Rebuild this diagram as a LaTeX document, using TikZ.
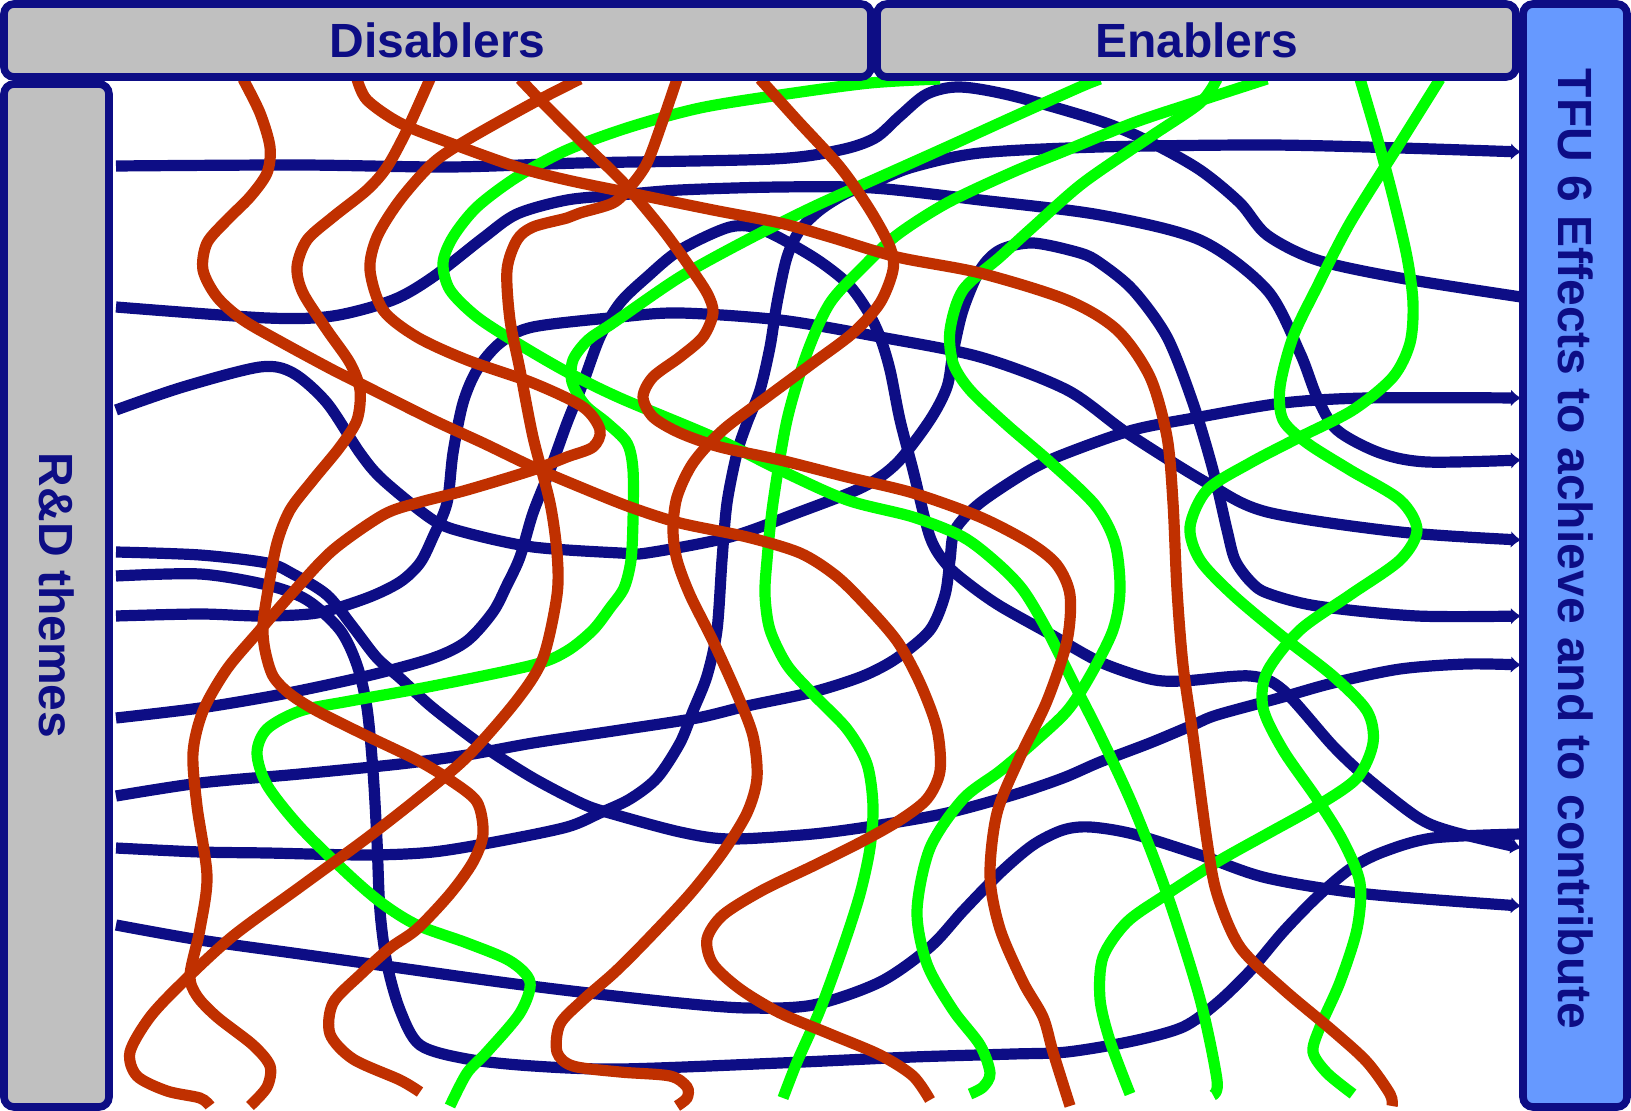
\documentclass[tikz,border=0pt]{standalone}
\usepackage{fontspec}
\setmainfont{Liberation Sans}
\usetikzlibrary{arrows.meta}
\definecolor{themenavy}{RGB}{13,13,133}
\definecolor{disred}{RGB}{192,48,0}
\definecolor{engreen}{RGB}{0,255,0}
\definecolor{panelgray}{RGB}{192,192,192}
\definecolor{tfublue}{RGB}{102,153,255}
\begin{document}
\begin{tikzpicture}[x=0.5pt,y=-0.5pt,
  panel/.style={draw=themenavy, line width=3.8pt, rounded corners=5pt, inner sep=0pt},
  lbl/.style={font=\fontsize{24}{28}\selectfont\bfseries, text=themenavy, inner sep=0pt},
  bl/.style={draw=themenavy, line width=5.6pt, -{Latex[length=5pt,width=8.5pt]}},
  bln/.style={draw=themenavy, line width=5.6pt},
  rd/.style={draw=disred, line width=5.6pt},
  gr/.style={draw=engreen, line width=5.6pt},
]
\useasboundingbox (0,0) rectangle (1631,1111);

% ---------- blue lines (R&D themes -> TFU 6 effects)
\draw[bln] plot[smooth] coordinates {(116,166) (300,165) (450,167) (580,163) (773,159) (840,150) (875,138) (900,116) (927,94) (960,87) (1013,96) (1100,121) (1150,142) (1200,170) (1240,203) (1267,235) (1317,260) (1400,278) (1521,297)};
\draw[bl] plot[smooth] coordinates {(116,307) (267,318) (333,316) (393,300) (433,277) (483,238) (517,214) (567,200) (620,195) (680,190) (780,187) (873,188) (980,200) (1100,215) (1200,240) (1267,290) (1300,353) (1317,397) (1337,430) (1380,453) (1427,462) (1521,460)};
\draw[bl] plot[smooth] coordinates {(116,410) (183,387) (260,367) (293,373) (327,403) (360,453) (383,480) (433,520) (467,533) (533,547) (620,553) (647,553) (730,537) (797,513) (863,487) (897,463) (930,420) (947,387) (953,353) (963,310) (980,270) (1000,250) (1033,243) (1080,253) (1100,263) (1133,290) (1167,337) (1193,403) (1213,470) (1227,530) (1235,560) (1250,581) (1267,593) (1317,606) (1417,616) (1521,616)};
\draw[bl] plot[smooth] coordinates {(116,552) (200,555) (267,563) (293,574) (327,595) (353,627) (377,658) (400,678) (433,708) (483,746) (533,778) (583,804) (613,814) (680,832) (730,839) (813,834) (880,825) (947,813) (1013,795) (1063,778) (1100,762) (1150,743) (1193,725) (1217,715) (1283,697) (1333,683) (1400,669) (1467,664) (1521,665)};
\draw[bln] plot[smooth] coordinates {(116,576) (200,574) (267,585) (307,600) (340,630) (357,665) (367,708) (373,771) (377,841) (380,911) (387,964) (400,1010) (420,1045) (467,1059) (533,1066) (620,1069) (780,1063) (913,1057) (1013,1054) (1067,1052) (1133,1041) (1183,1027) (1217,1003) (1250,971) (1283,932) (1317,897) (1350,869) (1383,852) (1433,838) (1521,834)};
\draw[bl] plot[smooth] coordinates {(116,616) (200,614) (260,616) (317,613) (367,598) (400,582) (420,563) (433,537) (447,503) (453,453) (463,403) (477,370) (500,343) (533,327) (620,317) (680,313) (780,320) (880,337) (980,357) (1067,390) (1127,433) (1207,483) (1267,512) (1400,532) (1521,540)};
\draw[bl] plot[smooth] coordinates {(116,718) (200,708) (283,694) (367,676) (433,658) (467,641) (493,612) (507,585) (520,557) (533,513) (550,470) (567,423) (583,383) (600,337) (620,303) (647,277) (680,250) (730,227) (763,230) (813,257) (847,283) (867,310) (880,337) (890,370) (900,420) (913,470) (930,537) (947,565) (970,585) (1000,606) (1050,634) (1100,662) (1150,679) (1183,681) (1250,676) (1283,690) (1333,746) (1367,778) (1417,817) (1450,831) (1521,848)};
\draw[bl] plot[smooth] coordinates {(116,796) (200,783) (300,774) (400,764) (467,755) (533,743) (620,730) (697,718) (747,706) (813,692) (863,676) (897,658) (930,630) (945,595) (950,560) (955,530) (980,503) (1030,470) (1067,453) (1133,430) (1200,417) (1283,403) (1367,398) (1521,398)};
\draw[bl] plot[smooth] coordinates {(116,848) (200,852) (267,853) (367,855) (433,852) (500,841) (567,827) (600,813) (630,799) (657,778) (680,743) (693,711) (707,676) (717,630) (722,560) (727,503) (737,453) (747,423) (760,390) (770,347) (777,303) (787,257) (800,230) (820,210) (847,193) (873,183) (913,167) (980,153) (1100,147) (1267,145) (1400,148) (1521,152)};
\draw[bl] plot[smooth] coordinates {(116,925) (200,940) (300,954) (400,968) (500,982) (580,992) (680,1003) (747,1008) (813,1005) (880,982) (930,947) (963,911) (1000,873) (1033,845) (1063,830) (1090,827) (1133,834) (1200,855) (1267,878) (1367,894) (1521,906)};

% ---------- green lines (enablers)
\draw[gr] plot[smooth] coordinates {(940,79) (870,83) (780,95) (700,108) (630,127) (567,150) (517,177) (477,207) (453,237) (443,263) (450,290) (477,317) (517,343) (567,372) (620,398) (713,437) (780,470) (847,500) (913,517) (963,537) (997,563) (1023,590) (1047,630) (1070,676) (1100,735) (1133,806) (1167,894) (1200,999) (1217,1080) (1213,1095)};
\draw[gr] plot[smooth] coordinates {(1100,79) (1080,87) (1013,117) (947,147) (880,177) (813,207) (747,240) (680,277) (613,323) (588,340) (573,360) (572,382) (585,405) (607,423) (627,443) (633,470) (633,520) (631,560) (624,588) (610,608) (593,630) (567,651) (533,665) (433,686) (350,701) (300,711) (267,729) (257,753) (267,785) (300,827) (350,876) (383,904) (417,925) (467,943) (510,961) (530,982) (520,1013) (487,1052) (467,1073) (450,1106)};
\draw[gr] plot[smooth] coordinates {(1267,79) (1193,103) (1133,123) (1067,150) (1013,172) (947,203) (897,235) (863,267) (830,303) (807,353) (787,420) (773,503) (767,560) (765,595) (770,630) (787,665) (813,694) (847,729) (867,764) (873,806) (870,848) (860,894) (843,947) (820,1010) (797,1062) (783,1098)};
\draw[gr] plot[smooth] coordinates {(1217,79) (1200,103) (1150,137) (1083,183) (1033,227) (1000,257) (963,290) (950,330) (953,363) (970,390) (1007,425) (1050,462) (1095,505) (1115,543) (1120,590) (1113,630) (1090,676) (1067,711) (1033,743) (1000,771) (963,799) (930,848) (917,911) (927,964) (953,1010) (980,1045) (990,1073) (983,1087) (970,1094)};
\draw[gr] plot[smooth] coordinates {(1360,79) (1377,137) (1393,197) (1407,257) (1413,303) (1410,343) (1393,377) (1353,410) (1300,437) (1250,463) (1207,490) (1190,527) (1200,560) (1233,595) (1283,637) (1333,676) (1367,711) (1373,743) (1357,778) (1317,806) (1267,834) (1217,862) (1167,894) (1127,922) (1103,957) (1100,999) (1110,1041) (1130,1094)};
\draw[gr] plot[smooth] coordinates {(1440,79) (1400,143) (1350,223) (1317,287) (1293,337) (1280,387) (1283,420) (1307,443) (1350,470) (1400,500) (1417,530) (1400,560) (1350,595) (1300,630) (1267,672) (1263,708) (1283,750) (1317,799) (1343,841) (1360,883) (1357,929) (1340,982) (1320,1027) (1313,1052) (1327,1073) (1353,1094)};

% ---------- red lines (disablers)
\draw[rd] plot[smooth] coordinates {(243,79) (260,113) (270,147) (267,173) (250,197) (227,220) (207,243) (203,270) (217,297) (243,320) (283,343) (333,370) (367,387) (433,420) (483,443) (533,467) (580,487) (630,507) (680,523) (747,537) (800,553) (835,575) (863,602) (897,641) (920,683) (937,729) (940,771) (927,799) (900,820) (863,841) (813,866) (763,890) (723,915) (707,939) (713,964) (740,989) (780,1013) (830,1034) (880,1055) (913,1076) (930,1100)};
\draw[rd] plot[smooth] coordinates {(357,79) (367,100) (400,123) (450,143) (517,167) (567,180) (630,193) (713,210) (780,223) (830,237) (897,257) (980,273) (1067,300) (1117,330) (1150,377) (1167,437) (1173,503) (1177,590) (1183,665) (1193,736) (1207,841) (1217,894) (1240,947) (1283,989) (1333,1031) (1367,1062) (1390,1094) (1392,1106)};
\draw[rd] plot[smooth] coordinates {(430,79) (407,130) (387,167) (367,190) (333,217) (307,240) (297,267) (303,293) (327,330) (350,363) (360,390) (357,420) (340,447) (313,480) (290,510) (277,543) (268,590) (263,625) (265,650) (273,676) (290,694) (317,711) (367,736) (417,760) (450,780) (477,802) (483,834) (473,862) (450,894) (417,929) (390,948) (360,975) (333,1003) (330,1034) (353,1059) (400,1080) (420,1092)};
\draw[rd] plot[smooth] coordinates {(520,79) (543,103) (583,143) (613,172) (630,190) (663,230) (687,263) (707,293) (713,313) (703,337) (680,357) (653,377) (643,397) (653,417) (680,433) (720,447) (780,460) (847,477) (913,493) (980,517) (1030,543) (1057,565) (1070,595) (1067,641) (1047,701) (1020,757) (997,813) (990,876) (1000,929) (1023,982) (1043,1017) (1053,1052) (1070,1106)};
\draw[rd] plot[smooth] coordinates {(580,79) (533,103) (467,140) (433,163) (400,200) (377,237) (370,270) (383,310) (417,337) (467,360) (533,383) (583,407) (600,430) (593,447) (567,457) (533,470) (467,490) (417,503) (383,515) (333,550) (295,590) (260,630) (227,669) (203,711) (193,753) (197,806) (207,876) (200,929) (190,975) (197,996) (217,1017) (253,1045) (270,1066) (267,1087) (250,1106)};
\draw[rd] plot[smooth] coordinates {(677,79) (663,120) (647,163) (630,187) (613,203) (580,213) (567,218) (533,227) (517,240) (507,270) (510,320) (520,370) (533,437) (550,503) (557,553) (557,595) (543,658) (517,700) (467,757) (417,799) (367,838) (300,887) (233,936) (183,982) (150,1017) (130,1052) (137,1076) (167,1091) (200,1098) (210,1106)};
\draw[rd] plot[smooth] coordinates {(760,79) (797,120) (840,167) (870,210) (890,247) (893,270) (880,303) (853,333) (813,363) (767,397) (723,430) (693,463) (677,497) (673,530) (677,560) (690,595) (713,641) (737,694) (753,736) (757,778) (747,813) (723,852) (690,894) (647,940) (615,972) (583,1000) (560,1024) (557,1052) (573,1066) (620,1072) (670,1076) (687,1087) (687,1098) (677,1106)};

% ---------- panels
\node[panel, fill=panelgray, minimum width=433.5pt, minimum height=36.5pt] (dis) at (437.5,40.5) {};
\node[lbl] (distxt) at (dis.center) {Disablers};
\node[panel, fill=panelgray, minimum width=319.5pt, minimum height=36.5pt] (en) at (1196.5,40.5) {};
\node[lbl] (entxt) at (en.center) {Enablers};
\node[panel, fill=tfublue, minimum width=52pt, minimum height=551.5pt] (tfu) at (1575,555.5) {};
\node[lbl, rotate=-90] (tfutxt) at (1576,549) {TFU 6 Effects to achieve and to contribute};
\node[panel, fill=panelgray, minimum width=52.5pt, minimum height=511.5pt] (rd) at (56.5,595.5) {};
\node[lbl, rotate=-90] (rdtxt) at (rd.center) {R\&D themes};
\end{tikzpicture}
\end{document}
